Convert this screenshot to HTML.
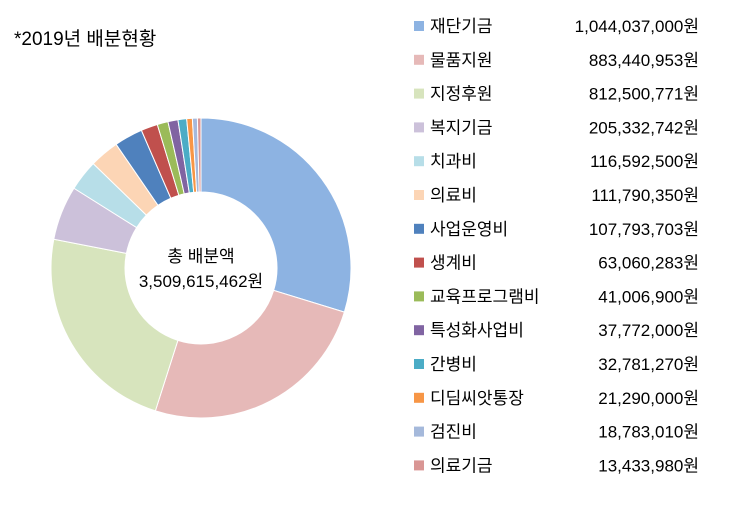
<!DOCTYPE html>
<html><head><meta charset="utf-8"><style>
body{margin:0;background:#fff;width:740px;height:510px;overflow:hidden;font-family:"Liberation Sans","Noto Sans CJK KR",sans-serif;}
</style></head><body>
<svg width="740" height="510">
<text x="14" y="45" font-size="19" fill="#000" font-family="Liberation Sans, Noto Sans CJK KR, sans-serif">*2019년 배분현황</text>
<g id="slices"></g>
<text x="201" y="262" font-size="17" text-anchor="middle" font-family="Liberation Sans, Noto Sans CJK KR, sans-serif">총 배분액</text>
<text x="201" y="287" font-size="17" text-anchor="middle" font-family="Liberation Sans, Noto Sans CJK KR, sans-serif">3,509,615,462원</text>
<g id="legend"></g>
</svg>
<script>
const categories=["재단기금","물품지원","지정후원","복지기금","치과비","의료비","사업운영비","생계비","교육프로그램비","특성화사업비","간병비","디딤씨앗통장","검진비","의료기금"];
const values=[1044037000,883440953,812500771,205332742,116592500,111790350,107793703,63060283,41006900,37772000,32781270,21290000,18783010,13433980];
const colors=["#8DB3E2","#E6B9B8","#D7E4BD","#CCC1DA","#B7DEE8","#FCD5B5","#4F81BD","#C0504D","#9BBB59","#8064A2","#4BACC6","#F79646","#A5B9DB","#D99694"];
const NS="http://www.w3.org/2000/svg";
const cx=201,cy=268,R=150,r=76;
const total=values.reduce((a,b)=>a+b,0);
const g=document.getElementById('slices');
function pt(rad,a){return [cx+rad*Math.sin(a),cy-rad*Math.cos(a)];}
let acc=0;
values.forEach((v,i)=>{
 const a0=acc/total*2*Math.PI;acc+=v;const a1=acc/total*2*Math.PI;
 const lg=(a1-a0)>Math.PI?1:0;
 const [x0,y0]=pt(R,a0),[x1,y1]=pt(R,a1),[x2,y2]=pt(r,a1),[x3,y3]=pt(r,a0);
 const p=document.createElementNS(NS,'path');
 p.setAttribute('d',`M${x0},${y0}A${R},${R} 0 ${lg} 1 ${x1},${y1}L${x2},${y2}A${r},${r} 0 ${lg} 0 ${x3},${y3}Z`);
 p.setAttribute('fill',colors[i]);p.setAttribute('stroke','#fff');p.setAttribute('stroke-width','1');
 
 
 g.appendChild(p);
});
const lg=document.getElementById('legend');
categories.forEach((c,i)=>{
 const y=26+i*33.8;
 const s=document.createElementNS(NS,'rect');
 s.setAttribute('x',414);s.setAttribute('y',y-5);s.setAttribute('width',10);s.setAttribute('height',10);s.setAttribute('fill',colors[i]);
 
 
 lg.appendChild(s);
 const t=document.createElementNS(NS,'text');
 t.setAttribute('x',430);t.setAttribute('y',y+6);t.setAttribute('font-size','17');t.textContent=c;
 
 
 lg.appendChild(t);
 const n=document.createElementNS(NS,'text');
 n.setAttribute('x',699);n.setAttribute('y',y+6);n.setAttribute('font-size','17');n.setAttribute('text-anchor','end');
 n.textContent=values[i].toLocaleString('en-US')+'원';
 
 
 lg.appendChild(n);
});
</script>
</body></html>
